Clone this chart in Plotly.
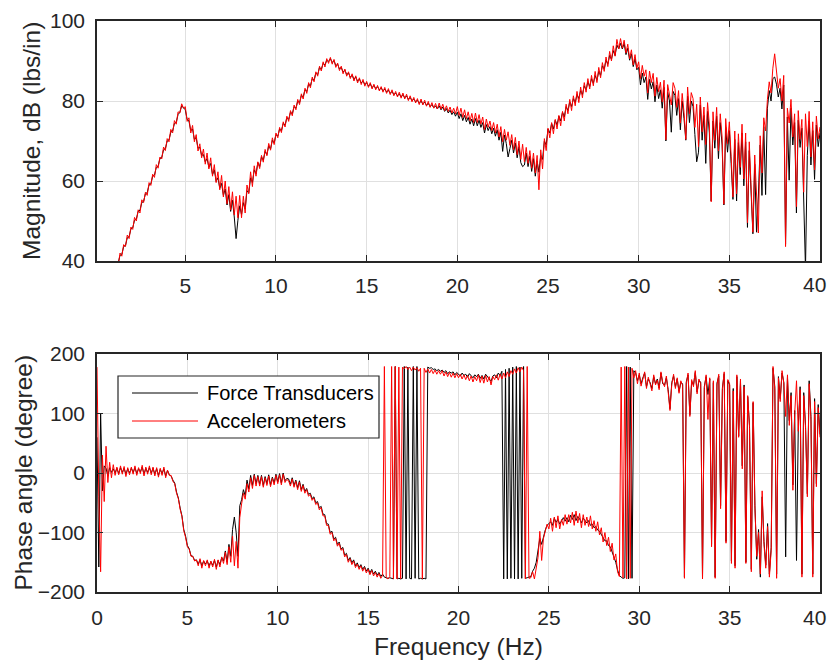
import plotly.graph_objects as go

# Frequency-response data, sampled every 0.1 Hz
STEP_HZ = 0.1
MAG_START_HZ = 1.0
PHASE_START_HZ = 0.0

# Magnitude, dB (lbs/in), from 1.0 Hz to 40.0 Hz
MAG_FORCE = [
    37.0, 37.4, 39.2, 39.5, 41.4, 41.7, 43.6, 43.9, 45.8, 46.1,
    48.0, 48.3, 50.2, 50.5, 52.4, 52.7, 54.6, 54.9, 56.8, 57.1,
    59.0, 59.3, 61.2, 61.5, 63.4, 63.7, 65.6, 65.9, 67.8, 68.1,
    70.0, 70.3, 72.2, 72.5, 74.4, 74.7, 76.6, 77.2, 78.8, 78.4,
    77.8, 75.4, 75.0, 72.6, 73.0, 70.4, 70.8, 68.2, 68.4, 66.4,
    66.6, 64.8, 65.6, 63.4, 64.4, 61.6, 62.8, 59.9, 60.8, 58.2,
    59.4, 56.4, 58.0, 54.0, 56.6, 52.4, 55.2, 51.0, 45.6, 50.2,
    53.8, 51.6, 54.6, 53.0, 57.6, 57.0, 60.8, 59.6, 62.8, 61.8,
    64.6, 63.6, 66.0, 65.2, 67.4, 66.6, 68.8, 68.0, 70.2, 69.5,
    71.6, 71.2, 73.0, 72.6, 74.4, 74.0, 75.8, 75.4, 77.2, 76.8,
    78.6, 78.2, 80.0, 79.6, 81.4, 81.0, 82.8, 82.4, 84.2, 83.8,
    85.6, 85.2, 87.0, 86.6, 88.4, 87.9, 89.4, 89.0, 90.2, 89.9,
    90.6, 89.6, 90.1, 88.8, 89.2, 88.0, 88.4, 87.2, 87.7, 86.6,
    87.0, 85.9, 86.5, 85.4, 86.0, 84.9, 85.5, 84.5, 85.0, 84.1,
    84.6, 83.7, 84.3, 83.3, 83.9, 83.1, 83.6, 82.8, 83.3, 82.5,
    83.0, 82.2, 82.7, 81.9, 82.4, 81.6, 82.0, 81.3, 81.8, 81.0,
    81.6, 80.8, 81.3, 80.4, 80.9, 80.1, 80.5, 79.8, 80.2, 79.4,
    80.0, 79.2, 79.7, 78.9, 79.4, 78.6, 79.1, 78.3, 78.8, 78.0,
    78.8, 77.8, 78.5, 77.4, 78.1, 77.0, 77.7, 76.6, 77.3, 76.2,
    77.2, 75.6, 76.8, 75.1, 76.4, 74.8, 75.9, 74.2, 75.5, 73.8,
    75.6, 73.8, 75.2, 73.4, 74.6, 72.0, 74.1, 72.6, 73.6, 71.8,
    73.2, 71.2, 72.8, 70.2, 72.2, 67.4, 71.5, 69.4, 66.0, 68.1,
    70.2, 67.0, 69.5, 65.8, 68.6, 64.6, 63.6, 64.0, 67.0, 63.6,
    66.2, 62.4, 65.6, 61.2, 65.0, 62.2, 66.4, 65.4, 70.0, 69.0,
    73.0, 72.0, 74.4, 73.0, 75.2, 74.0, 76.2, 75.0, 77.2, 76.0,
    78.6, 77.6, 79.8, 78.6, 80.6, 79.6, 81.6, 80.6, 82.6, 81.6,
    83.8, 82.8, 84.8, 83.6, 85.6, 84.4, 86.4, 85.2, 87.4, 86.4,
    88.8, 88.0, 90.2, 89.2, 91.4, 90.4, 92.6, 91.4, 94.0, 93.0,
    94.4, 93.0, 94.4, 91.6, 93.2, 90.2, 91.8, 88.6, 90.6, 87.8,
    88.4, 84.0, 87.0, 84.6, 86.0, 80.4, 85.4, 83.0, 84.8, 79.8,
    84.0, 80.6, 82.8, 78.2, 83.4, 70.0, 82.2, 80.0, 72.2, 82.4,
    81.4, 76.4, 80.6, 72.8, 80.0, 75.6, 70.2, 81.2, 74.6, 80.0,
    78.6, 71.6, 64.8, 67.2, 79.0, 70.2, 76.4, 64.4, 77.4, 72.0,
    55.0, 75.0, 68.2, 76.2, 65.6, 74.6, 69.0, 54.0, 73.4, 67.2,
    72.6, 64.4, 55.4, 70.4, 55.0, 69.6, 61.6, 72.0, 58.8, 69.8,
    48.4, 67.6, 58.6, 46.8, 64.2, 47.2, 56.0, 69.0, 56.4, 73.6,
    56.6, 78.2, 82.6, 80.0, 85.6, 86.0, 84.2, 81.0, 83.2, 78.0,
    84.0, 44.2, 76.0, 60.2, 78.2, 69.0, 74.6, 52.0, 75.2, 68.4,
    73.2, 55.0, 38.0, 66.4, 75.0, 64.0, 72.6, 60.4, 74.0, 68.6,
    72.0,
]

MAG_ACCEL = [
    37.4, 36.9, 39.8, 39.0, 42.0, 41.2, 44.1, 43.6, 46.5, 45.6,
    48.5, 47.9, 50.9, 50.0, 52.8, 52.0, 55.3, 54.6, 57.2, 56.4,
    59.6, 58.9, 61.7, 60.9, 64.1, 63.2, 66.0, 65.5, 68.5, 67.6,
    70.6, 69.8, 72.9, 72.0, 75.1, 74.2, 77.3, 77.0, 79.3, 78.2,
    78.6, 74.9, 75.8, 72.0, 73.9, 69.8, 71.6, 67.5, 69.3, 65.8,
    68.0, 64.2, 67.0, 63.0, 65.8, 61.2, 64.1, 59.6, 62.3, 57.8,
    61.4, 56.0, 60.0, 54.3, 58.6, 52.8, 57.3, 51.5, 56.2, 50.8,
    56.4, 50.8, 56.2, 52.0, 59.0, 56.8, 62.3, 58.6, 63.8, 61.2,
    64.8, 63.1, 66.4, 64.7, 67.9, 66.3, 69.4, 67.7, 70.8, 69.1,
    72.0, 70.8, 73.4, 72.1, 74.8, 73.5, 76.2, 74.9, 77.6, 76.3,
    79.0, 77.8, 80.4, 79.1, 81.8, 80.5, 83.2, 81.9, 84.6, 83.3,
    86.0, 84.8, 87.3, 86.2, 88.7, 87.5, 89.8, 88.5, 90.6, 89.4,
    90.9, 89.2, 90.4, 88.4, 89.5, 87.6, 88.7, 86.8, 88.0, 86.2,
    87.3, 85.6, 86.8, 85.0, 86.3, 84.5, 85.8, 84.1, 85.4, 83.7,
    84.9, 83.4, 84.6, 83.0, 84.2, 82.8, 83.9, 82.5, 83.6, 82.2,
    83.4, 81.9, 83.1, 81.6, 82.8, 81.3, 82.4, 81.0, 82.2, 80.7,
    82.0, 80.5, 81.7, 80.1, 81.3, 79.8, 80.9, 79.5, 80.6, 79.1,
    80.5, 79.0, 80.2, 78.7, 79.9, 78.4, 79.6, 78.2, 79.4, 78.0,
    79.5, 78.0, 79.2, 77.6, 78.8, 77.4, 78.5, 77.0, 78.2, 76.8,
    78.6, 76.4, 78.2, 75.9, 77.8, 75.6, 77.3, 75.0, 76.9, 74.6,
    77.0, 74.6, 76.6, 74.2, 76.0, 72.8, 75.5, 73.4, 75.0, 72.6,
    74.6, 72.0, 74.2, 71.0, 73.6, 69.8, 72.9, 70.2, 72.3, 68.9,
    71.6, 67.8, 70.9, 66.6, 70.0, 65.4, 69.2, 64.8, 68.4, 64.4,
    67.6, 63.2, 67.0, 62.0, 66.4, 57.8, 67.8, 63.0, 70.6, 67.6,
    73.2, 70.8, 74.6, 71.8, 75.4, 73.0, 76.4, 73.8, 77.4, 75.0,
    79.2, 76.8, 80.4, 77.6, 81.3, 78.8, 82.4, 79.6, 83.5, 80.8,
    84.6, 82.2, 85.6, 83.0, 86.4, 83.8, 87.4, 84.6, 88.4, 85.8,
    89.6, 87.4, 91.0, 88.6, 92.4, 90.0, 93.8, 91.2, 95.4, 93.0,
    95.6, 93.2, 95.2, 92.0, 94.2, 90.6, 92.8, 89.0, 91.6, 88.2,
    89.8, 85.6, 88.9, 86.2, 87.8, 82.0, 87.5, 84.6, 86.9, 81.2,
    85.9, 82.3, 84.7, 79.8, 85.2, 70.3, 84.1, 81.5, 79.0, 84.6,
    83.2, 78.4, 82.6, 74.5, 81.9, 77.2, 70.4, 83.5, 76.8, 82.1,
    80.6, 73.4, 79.2, 68.6, 81.0, 72.3, 78.5, 69.1, 79.6, 74.0,
    54.8, 77.3, 70.2, 78.4, 67.5, 76.8, 71.0, 54.2, 75.6, 69.3,
    74.8, 66.2, 56.0, 72.5, 56.8, 71.8, 63.4, 74.2, 60.5, 72.0,
    49.6, 69.8, 60.2, 47.2, 66.5, 58.0, 47.0, 71.3, 62.0, 75.8,
    72.5, 80.4, 84.8, 82.0, 88.2, 91.8, 86.5, 83.2, 85.6, 80.0,
    86.4, 43.6, 78.2, 74.5, 80.4, 71.0, 76.8, 53.6, 77.6, 70.4,
    75.4, 57.2, 76.8, 68.6, 77.4, 66.0, 74.8, 62.8, 76.2, 70.5,
    73.5,
]

# Phase angle (degree), from 0.0 Hz to 40.0 Hz
PHASE_FORCE = [
    60, -158, 100, -30, 12, 8, -5, 9, 1, 7,
    0, 8, -1, 9, 1, 8, -2, 7, 0, 8,
    1, 9, -1, 7, 2, 10, -2, 8, 1, 9,
    0, 8, -2, 7, -4, 6, -1, 7, -5, 4,
    -3, -5, -12, -17, -32, -42, -59, -72, -95, -106,
    -122, -127, -139, -140, -147, -146, -153, -146, -156, -148,
    -153, -148, -156, -149, -155, -147, -158, -147, -154, -142,
    -148, -131, -150, -120, -140, -95, -74, -100, -140, -55,
    -45, -28, -38, -12, -27, -4, -21, -2, -18, -4,
    -19, -4, -21, -6, -18, -3, -20, -7, -17, -2,
    -15, -1, -17, 0, -13, -9, -10, -19, -8, -21,
    -12, -25, -13, -28, -19, -31, -26, -36, -34, -43,
    -40, -50, -48, -59, -56, -69, -70, -85, -86, -100,
    -98, -111, -108, -120, -116, -128, -125, -138, -135, -147,
    -142, -151, -146, -156, -151, -159, -154, -162, -157, -165,
    -160, -168, -162, -170, -165, -172, -167, -174, -170, -175,
    -176, -177, -176, -177, -178, 179, -178, -177, -178, -177,
    179, -178, 178, -177, -178, 179, -177, 179, -178, -177,
    -178, -177, -178, 178, 176, 177, 174, 175, 172, 174,
    171, 173, 169, 172, 167, 170, 168, 170, 165, 169,
    166, 163, 168, 164, 166, 161, 167, 163, 160, 165,
    162, 166, 159, 164, 158, 166, 161, 158, 154, 163,
    165, 160, 168, 164, 171, -178, 174, -178, 176, -177,
    178, -178, 179, -178, 178, -177, 179, -177, -176, -175,
    -174, -165, -160, -150, -128, -110, -120, -105, -96, -88,
    -85, -82, -88, -76, -83, -78, -86, -80, -75, -81,
    -75, -82, -71, -78, -70, -80, -73, -77, -84, -76,
    -80, -84, -80, -88, -86, -92, -90, -96, -98, -103,
    -107, -114, -114, -122, -124, -133, -143, -150, -163, -172,
    -175, -177, -176, 179, -178, 178, -177, 172, 168, 155,
    165, 150, 160, 168, 145, 158, 152, 142, 162, 150,
    158, 143, 168, 150, 148, 160, 140, 108, 152, 163,
    145, 158, 137, 152, 150, -175, 153, 165, 98, 154,
    148, 169, 136, 155, 153, -176, 145, 162, 132, 158,
    -120, 152, -175, 151, 163, -55, 143, 167, -115, 155,
    148, -148, 142, -156, 162, 62, 155, 12, 148, -150,
    128, 80, -162, 118, -55, -145, -95, -175, -40, -115,
    -155, -85, -170, -125, 176, 145, -170, 162, 125, 168,
    152, -141, 160, 88, 135, -20, 105, -147, 80, 145,
    -170, 135, 80, -35, 155, 95, -170, 125, -18, 115,
    65,
]

PHASE_ACCEL = [
    178, -40, -166, 30, -48, 45, -16, 18, -8, 14,
    -4, 10, -3, 12, -2, 11, -6, 9, -3, 10,
    -2, 12, -4, 9, -1, 13, -5, 10, -2, 12,
    -3, 10, -5, 9, -7, 8, -4, 10, -8, 5,
    -4, -4, -14, -18, -34, -43, -61, -73, -97, -108,
    -124, -128, -140, -140, -148, -146, -156, -144, -160, -147,
    -156, -146, -160, -148, -158, -145, -162, -146, -158, -141,
    -152, -133, -154, -124, -150, -106, -156, -115, -160, -75,
    -52, -34, -44, -18, -32, -8, -26, -4, -22, -6,
    -22, -6, -24, -8, -21, -5, -23, -9, -20, -4,
    -18, -3, -20, -2, -16, -11, -13, -22, -10, -24,
    -14, -28, -15, -31, -21, -34, -28, -39, -36, -46,
    -42, -53, -50, -62, -58, -72, -72, -88, -88, -103,
    -100, -114, -110, -123, -118, -130, -127, -141, -137, -150,
    -144, -154, -148, -159, -153, -162, -156, -165, -159, -168,
    -162, -171, -164, -173, -167, -175, -169, -177, -172, 179,
    -176, -178, -174, 179, -178, 179, -178, 178, -178, 178,
    175, 179, 174, 178, 172, 178, 173, 177, 171, 176,
    -178, 176, 169, 175, 168, 174, 167, 173, 166, 172,
    166, 172, 163, 170, 162, 169, 161, 168, 160, 167,
    160, 166, 158, 165, 157, 164, 155, 163, 153, 162,
    155, 165, 152, 163, 151, 164, 153, 162, 148, 162,
    157, 165, 156, 166, 158, 168, 160, 170, 162, 172,
    166, 175, 168, 177, 170, 178, 172, -178, 179, -177,
    -176, -166, -178, -158, -142, -98, -147, -110, -100, -86,
    -94, -76, -98, -74, -92, -72, -94, -78, -88, -70,
    -86, -70, -84, -66, -88, -64, -84, -68, -92, -70,
    -88, -74, -90, -72, -94, -80, -98, -82, -104, -92,
    -116, -100, -122, -108, -132, -118, -146, -136, -166, -174,
    178, -176, 179, -178, 178, -177, 176, 160, 172, 150,
    168, 146, 158, 170, 142, 161, 150, 138, 165, 148,
    156, 140, 170, 152, 145, 163, 136, 105, 149, 166,
    142, 160, 134, 155, 147, -177, 150, 168, 95, 157,
    145, 172, 133, 158, 150, -178, 142, 165, 90, 160,
    -124, 155, -177, 148, 166, -60, 140, 170, -118, 157,
    150, -152, 138, -160, 165, 60, 158, 7, 145, -152,
    130, 77, -166, 120, -60, -140, -100, -170, -30, -120,
    -160, -90, -175, -130, 179, 140, -177, 160, 120, 172,
    150, 95, 165, 80, 130, -29, 100, 155, 70, 140,
    -175, 130, 75, -40, 150, 90, -175, 120, -23, 110,
    60,
]

SERIES_NAMES = ["Force Transducers", "Accelerometers"]
SERIES_COLORS = ["#000000", "#ff0000"]

MAG_TICKS = [40, 60, 80, 100]
PHASE_TICKS = [-200, -100, 0, 100, 200]
FREQ_TICKS_TOP = [5, 10, 15, 20, 25, 30, 35, 40]
FREQ_TICKS_BOTTOM = [0, 5, 10, 15, 20, 25, 30, 35, 40]


def freq_grid(start, count):
    return [round(start + STEP_HZ * i, 2) for i in range(count)]


def tick_text(vals, skip_last=True):
    # the last label sits on the right edge; it is drawn separately so it stays inside the page
    return [("" if (skip_last and v == vals[-1]) else str(v)) for v in vals]


mag_freq = freq_grid(MAG_START_HZ, len(MAG_ACCEL))
phase_freq = freq_grid(PHASE_START_HZ, len(PHASE_ACCEL))

fig = go.Figure()
for name, color, mag in zip(SERIES_NAMES, SERIES_COLORS, [MAG_FORCE, MAG_ACCEL]):
    fig.add_trace(go.Scatter(x=mag_freq, y=mag, mode="lines", name=name,
                             line=dict(color=color, width=1),
                             xaxis="x", yaxis="y", showlegend=False))
for name, color, ph in zip(SERIES_NAMES, SERIES_COLORS, [PHASE_FORCE, PHASE_ACCEL]):
    fig.add_trace(go.Scatter(x=phase_freq, y=ph, mode="lines", name=name,
                             line=dict(color=color, width=1),
                             xaxis="x2", yaxis="y2", showlegend=False))

FONT = "Liberation Sans, Arial, sans-serif"
AXIS_COLOR = "#262626"
GRID_COLOR = "#e0e0e0"
TICK_SIZE = 21

W, H = 829, 660
ML, MR, MT, MB = 97, 9, 21, 68
PW, PH = W - ML - MR, H - MT - MB


def px_x(x):
    return (x - ML) / PW


def px_y(y):
    return (H - MB - y) / PH


common_axis = dict(
    showline=True, linecolor=AXIS_COLOR, linewidth=1.5, mirror="ticks",
    ticks="inside", ticklen=6, tickwidth=1.2, tickcolor=AXIS_COLOR,
    showgrid=True, gridcolor=GRID_COLOR, gridwidth=1, zeroline=False,
    ticklabeloverflow="allow", automargin=False,
    tickfont=dict(family=FONT, size=TICK_SIZE, color=AXIS_COLOR),
)

fig.update_layout(
    width=W, height=H,
    margin=dict(l=ML, r=MR, t=MT, b=MB, autoexpand=False),
    paper_bgcolor="white", plot_bgcolor="white",
    showlegend=False,
    xaxis=dict(domain=[0, 1], anchor="y", range=[0.13, 40],
               tickvals=FREQ_TICKS_TOP, ticktext=tick_text(FREQ_TICKS_TOP),
               ticklabelstandoff=5, **common_axis),
    yaxis=dict(domain=[px_y(261), 1], anchor="x", range=[40, 100],
               tickvals=MAG_TICKS, ticklabelstandoff=6, **common_axis),
    xaxis2=dict(domain=[0, 1], anchor="y2", range=[0, 40],
                tickvals=FREQ_TICKS_BOTTOM, ticktext=tick_text(FREQ_TICKS_BOTTOM),
                ticklabelstandoff=6, **common_axis),
    yaxis2=dict(domain=[0, px_y(354)], anchor="x2", range=[-200, 200],
                tickvals=PHASE_TICKS, ticklabelstandoff=6, **common_axis),
)

# Right-edge frequency labels, nudged inside the page
for ylab in (285, 617):
    fig.add_annotation(xref="paper", yref="paper", showarrow=False,
                       x=px_x(828), y=px_y(ylab), xanchor="right", yanchor="middle",
                       text=str(FREQ_TICKS_BOTTOM[-1]),
                       font=dict(family=FONT, size=TICK_SIZE, color=AXIS_COLOR))

title_font = dict(family=FONT, size=24.5, color=AXIS_COLOR)
annotations = [
    dict(text="Magnitude, dB (lbs/in)", x=px_x(32), y=px_y(141), textangle=-90),
    dict(text="Phase angle (degree)", x=px_x(22.5), y=px_y(473), textangle=-90),
    dict(text="Frequency (Hz)", x=px_x(458), y=px_y(646), textangle=0),
]
for a in annotations:
    fig.add_annotation(xref="paper", yref="paper", showarrow=False,
                       xanchor="center", yanchor="middle", font=title_font, **a)

# Legend box drawn inside the phase panel
legend_box = dict(x0=118, x1=379, y0=376, y1=438)
fig.add_shape(type="rect", xref="paper", yref="paper", layer="above",
              x0=px_x(legend_box["x0"]), x1=px_x(legend_box["x1"]),
              y0=px_y(legend_box["y1"]), y1=px_y(legend_box["y0"]),
              line=dict(color=AXIS_COLOR, width=1.2), fillcolor="white")
for name, color, yy in zip(SERIES_NAMES, SERIES_COLORS, [393, 421]):
    fig.add_shape(type="line", xref="paper", yref="paper", layer="above",
                  x0=px_x(132), x1=px_x(198), y0=px_y(yy), y1=px_y(yy),
                  line=dict(color=color, width=1))
    fig.add_annotation(xref="paper", yref="paper", showarrow=False,
                       x=px_x(205), y=px_y(yy), xanchor="left", yanchor="middle",
                       text=name, font=dict(family=FONT, size=20, color="#000000"))

fig.write_html("out.html")
